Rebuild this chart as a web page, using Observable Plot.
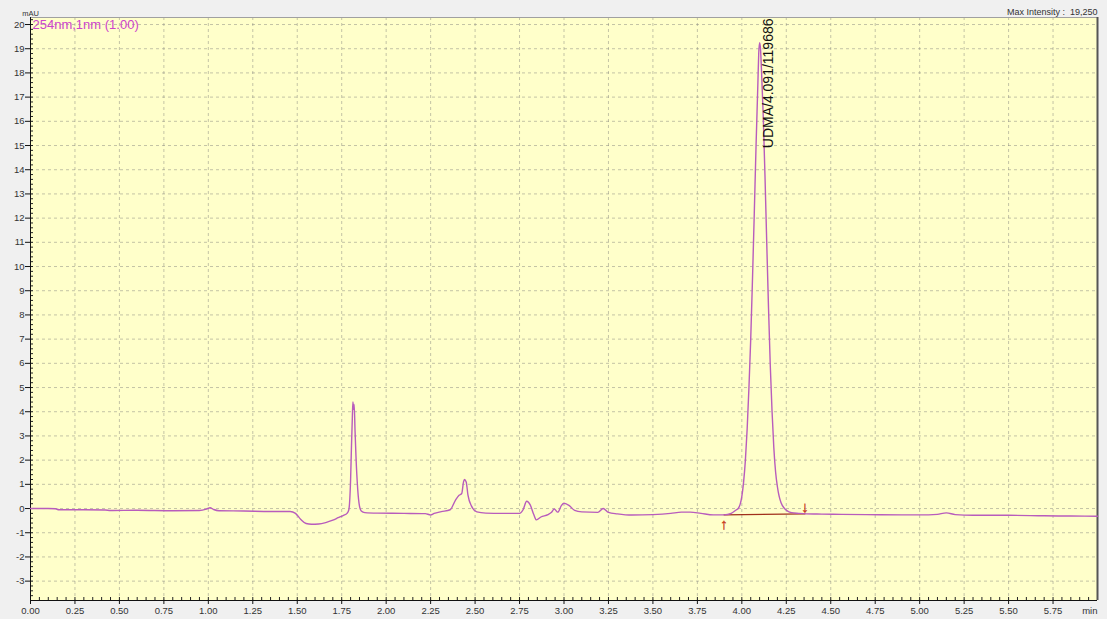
<!DOCTYPE html>
<html>
<head>
<meta charset="utf-8">
<script src="https://cdn.jsdelivr.net/npm/d3@7"></script>
<script src="https://cdn.jsdelivr.net/npm/@observablehq/plot@0.6"></script>
<style>
  html, body { margin: 0; padding: 0; background: #f0f0f0; }
  #chart { width: 1107px; height: 619px; }
</style>
</head>
<body>
<div id="chart"></div>
<script>
// ---- Data ----
const retentionTime = [
  0.00, 0.10, 0.14, 0.16, 0.30, 0.42, 0.45, 0.60, 0.80, 0.95, 0.99, 1.01, 1.03, 1.06, 1.20, 1.35,
  1.46, 1.49, 1.52, 1.55, 1.58, 1.62, 1.66, 1.70, 1.73, 1.76, 1.78, 1.79, 1.80, 1.805, 1.81, 1.813,
  1.817, 1.82, 1.825, 1.83, 1.84, 1.85, 1.86, 1.88, 1.95, 2.10, 2.22, 2.25, 2.27, 2.31, 2.36, 2.39,
  2.41, 2.425, 2.435, 2.44, 2.45, 2.46, 2.48, 2.51, 2.56, 2.65, 2.75, 2.77, 2.79, 2.81, 2.83, 2.845,
  2.87, 2.91, 2.93, 2.945, 2.965, 2.985, 3.00, 3.03, 3.06, 3.10, 3.19, 3.22, 3.25, 3.30, 3.38, 3.50,
  3.60, 3.66, 3.71, 3.77, 3.84, 3.90, 3.94, 3.97, 3.98, 4.00, 4.01, 4.02, 4.03, 4.04, 4.05, 4.06,
  4.07, 4.08, 4.09, 4.095, 4.10, 4.105, 4.11, 4.12, 4.13, 4.14, 4.15, 4.16, 4.17, 4.18, 4.19, 4.20,
  4.21, 4.22, 4.24, 4.26, 4.28, 4.32, 4.36, 4.45, 4.56, 4.70, 4.90, 5.05, 5.10, 5.15, 5.20, 5.30,
  5.50, 5.70, 5.85, 6.00
];
const absorbance = [
  0.00, 0.00, -0.01, -0.05, -0.05, -0.06, -0.08, -0.07, -0.09, -0.08, -0.02, 0.03, -0.04, -0.09, -0.10, -0.12,
  -0.12, -0.20, -0.45, -0.62, -0.65, -0.64, -0.58, -0.48, -0.38, -0.28, -0.20, -0.05, 1.2, 2.6, 3.8, 4.4,
  4.1, 4.3, 3.2, 2.2, 0.8, 0.1, -0.10, -0.17, -0.19, -0.20, -0.21, -0.26, -0.20, -0.13, -0.05, 0.35,
  0.55, 0.62, 1.1, 1.2, 1.1, 0.55, 0.10, -0.14, -0.19, -0.20, -0.20, -0.05, 0.30, 0.15, -0.25, -0.47,
  -0.35, -0.25, -0.15, -0.02, -0.15, 0.12, 0.22, 0.12, -0.08, -0.14, -0.16, 0.00, -0.16, -0.22, -0.27, -0.25,
  -0.20, -0.15, -0.15, -0.20, -0.26, -0.26, -0.20, -0.05, 0.0, 0.5, 1.1, 2.0, 3.3, 5.0, 7.0, 9.5,
  12.2, 15.0, 17.5, 18.8, 19.25, 19.0, 18.2, 16.3, 13.8, 11.0, 8.3, 5.9, 4.0, 2.5, 1.5, 0.9,
  0.5, 0.25, 0.0, -0.12, -0.17, -0.20, -0.22, -0.23, -0.24, -0.25, -0.26, -0.26, -0.24, -0.18, -0.25, -0.28,
  -0.28, -0.30, -0.31, -0.32
];
const peakName = ["UDMA"];
const peakTime = [4.091];
const peakArea = [119686];
const baselineTime = [3.90, 4.355];
const baselineValue = [-0.26, -0.22];
const xTicks = [0, 0.25, 0.5, 0.75, 1, 1.25, 1.5, 1.75, 2, 2.25, 2.5, 2.75, 3, 3.25, 3.5, 3.75, 4, 4.25, 4.5, 4.75, 5, 5.25, 5.5, 5.75];
const yTicks = [-3, -2, -1, 0, 1, 2, 3, 4, 5, 6, 7, 8, 9, 10, 11, 12, 13, 14, 15, 16, 17, 18, 19, 20];
const xDomain = [0, 6.0];
const yDomain = [-3.8, 20.29];
const channelLabel = ["254nm,1nm (1.00)"];
const maxIntensityLabel = ["Max Intensity :  19,250"];
const yUnit = ["mAU"];
const xUnit = ["min"];

// ---- Tables built from the arrays ----
const trace = retentionTime.map((t, i) => ({t, v: absorbance[i]}));
const peaks = peakName.map((n, i) => ({name: n, t: peakTime[i], area: peakArea[i]}));
const baseline = baselineTime.map((t, i) => ({t, v: baselineValue[i]}));
const xMinor = d3.range(0, 6.0001, 0.05).map(d => +d.toFixed(2));
const yMinor = d3.range(-3.8, 20.2001, 0.2).map(d => +d.toFixed(1));

const W = 1107, H = 619;
const mL = 30, mR = 10, mT = 17, mB = 19;
const plotW = W - mL - mR, plotH = H - mT - mB;

const chart = Plot.plot({
  width: W,
  height: H,
  marginLeft: mL,
  marginRight: mR,
  marginTop: mT,
  marginBottom: mB,
  x: {domain: xDomain, axis: null},
  y: {domain: yDomain, axis: null},
  style: {background: "#f0f0f0", fontFamily: "'Liberation Sans', Arial, sans-serif", fontSize: "9.5px", color: "#222"},
  marks: [
    Plot.frame({fill: "#ffffca", stroke: "none"}),
    Plot.gridX(xTicks, {stroke: "#8a8a80", strokeOpacity: 0.5, strokeDasharray: "3,3"}),
    Plot.gridY(yTicks, {stroke: "#8a8a80", strokeOpacity: 0.5, strokeDasharray: "3,3"}),
    // minor ticks (inside)
    Plot.tickX(xMinor, {x: d => d, stroke: "#222", insetTop: plotH - 3}),
    Plot.tickY(yMinor, {y: d => d, stroke: "#222", insetRight: plotW - 3}),
    // frame lines
    Plot.ruleY([yDomain[1]], {stroke: "#a0a0a0"}),
    Plot.ruleX([xDomain[1]], {stroke: "#555", strokeWidth: 2}),
    Plot.ruleX([xDomain[0]], {stroke: "#111"}),
    Plot.ruleY([yDomain[0]], {stroke: "#111"}),
    // axes
    Plot.axisX(xTicks, {tickFormat: d => d.toFixed(2), tickSize: 4, tickPadding: 3, label: null, fontSize: 9.5, stroke: "#111", fill: "#333"}),
    Plot.axisY(yTicks, {tickFormat: d => String(d), tickSize: 5, tickPadding: 1, label: null, fontSize: 9.5, stroke: "#111", fill: "#333"}),
    // integration baseline
    Plot.line(baseline, {x: "t", y: "v", stroke: "#a0301c", strokeWidth: 1.3}),
    // chromatogram trace
    Plot.line(trace, {x: "t", y: "v", stroke: "#b85cbc", strokeWidth: 1.4, curve: "monotone-x"}),
    // baseline start / end markers
    Plot.text(baseline.slice(0, 1), {x: "t", y: "v", text: () => "↑", fill: "#c83c1e", stroke: "#c83c1e", strokeWidth: 0.4, fontSize: 15, dy: 9}),
    Plot.text(baseline.slice(1), {x: "t", y: "v", text: () => "↓", fill: "#c83c1e", stroke: "#c83c1e", strokeWidth: 0.4, fontSize: 15, dy: -7}),
    // peak label
    Plot.text(peaks, {x: "t", frameAnchor: "top", text: d => `${d.name}/${d.t.toFixed(3)}/${d.area}`, rotate: -90, textAnchor: "end", dx: 5, dy: 1, fontSize: 14, fill: "#111"}),
    // channel label
    Plot.text(channelLabel, {frameAnchor: "top-left", text: d => d, textAnchor: "start", lineAnchor: "top", dx: 2, dy: 2, fontSize: 13, fill: "#cc44cc"}),
    // units and header
    Plot.text(yUnit, {frameAnchor: "top-left", text: d => d, textAnchor: "middle", lineAnchor: "bottom", dx: 0, dy: -2, fontSize: 7.5, fill: "#333"}),
    Plot.text(maxIntensityLabel, {frameAnchor: "top-right", text: d => d, textAnchor: "end", lineAnchor: "bottom", dy: -3, fontSize: 9, fill: "#333"}),
    Plot.text(xUnit, {frameAnchor: "bottom-right", text: d => d, textAnchor: "end", lineAnchor: "top", dy: 7, fontSize: 9.5, fill: "#333"})
  ]
});
document.getElementById("chart").appendChild(chart);
</script>
</body>
</html>
